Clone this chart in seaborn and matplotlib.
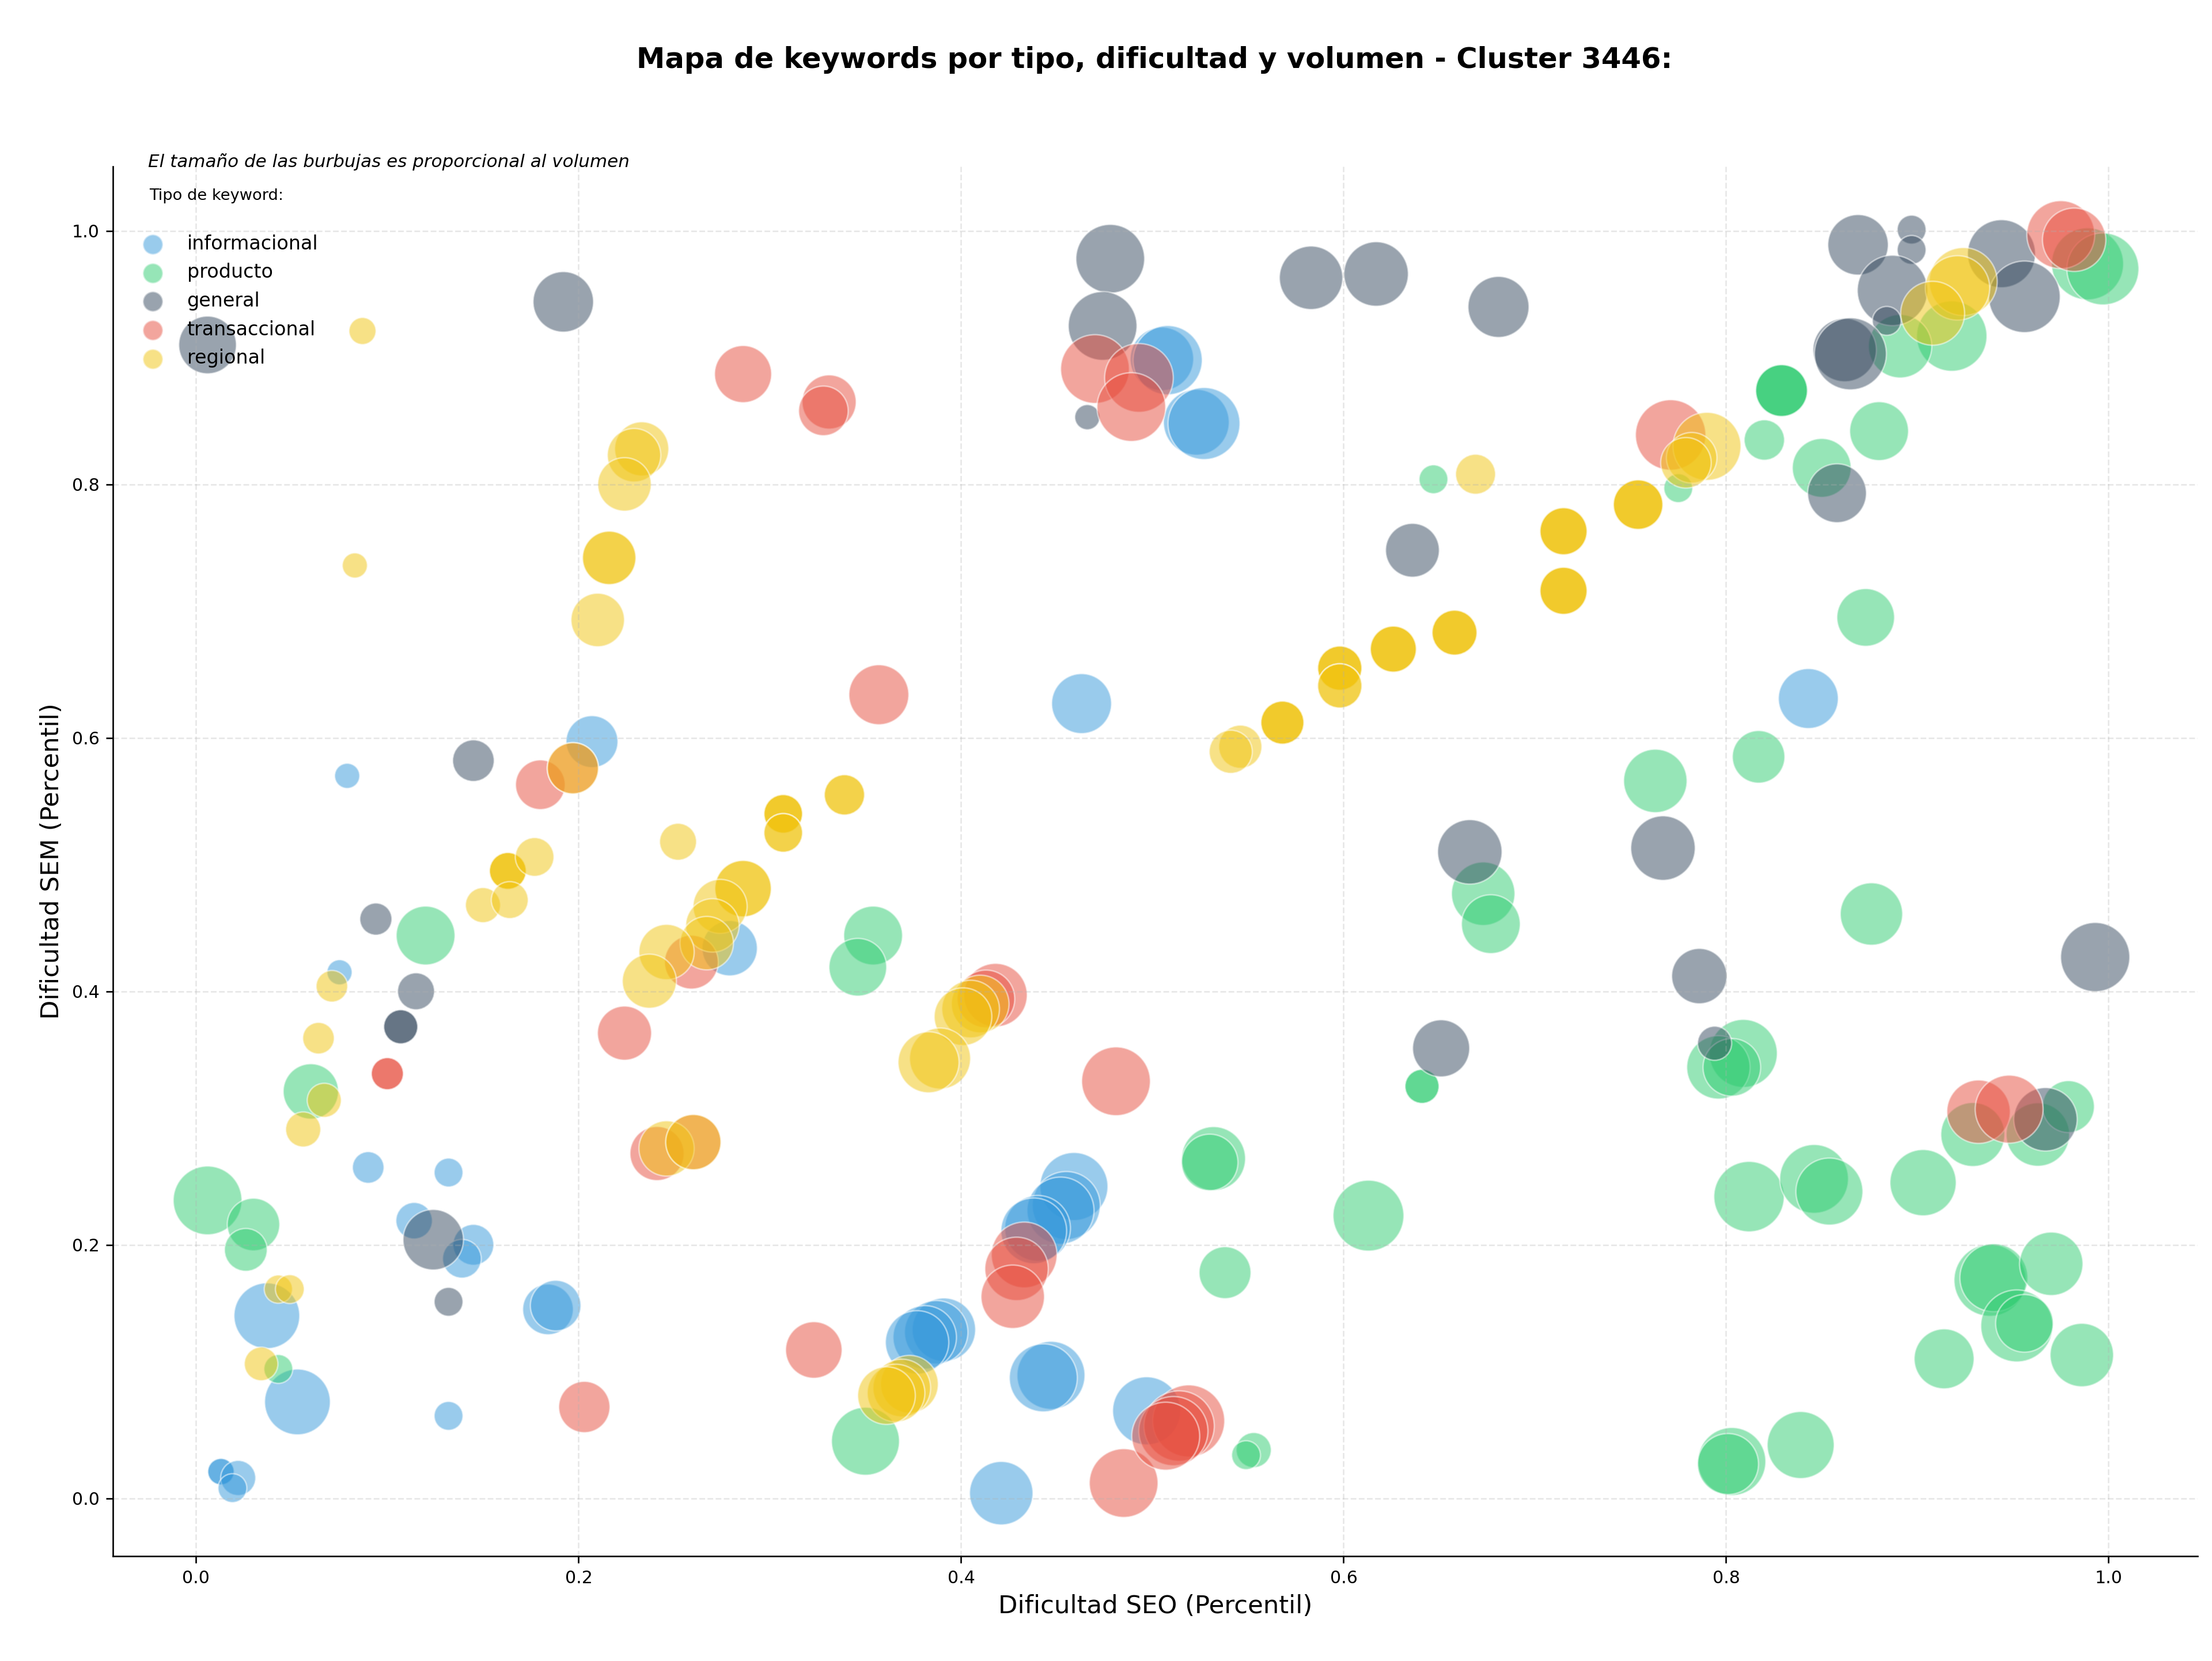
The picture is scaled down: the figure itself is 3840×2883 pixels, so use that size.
import numpy as np
import pandas as pd
import matplotlib
matplotlib.use("Agg")
import matplotlib.pyplot as plt
import seaborn as sns

tipos = ["informacional", "producto", "general", "transaccional", "regional"]
colores = ["#3498db", "#2ecc71", "#34495e", "#e74c3c", "#f1c40f"]

# informacional
info_seo = [0.505, 0.508, 0.523, 0.527, 0.463, 0.843, 0.207, 0.079, 0.075, 0.279, 0.090, 0.132,
            0.114, 0.145, 0.139, 0.037, 0.184, 0.188, 0.053, 0.132, 0.013, 0.022, 0.019, 0.459,
            0.455, 0.452, 0.440, 0.438, 0.391, 0.387, 0.381, 0.377, 0.447, 0.443, 0.421, 0.497]
info_sem = [0.899, 0.898, 0.849, 0.848, 0.627, 0.631, 0.597, 0.570, 0.415, 0.434, 0.261, 0.257,
            0.219, 0.200, 0.189, 0.144, 0.149, 0.152, 0.076, 0.065, 0.021, 0.016, 0.008, 0.246,
            0.231, 0.227, 0.213, 0.211, 0.133, 0.131, 0.127, 0.123, 0.097, 0.095, 0.004, 0.069]
info_vol = [1210, 1440, 1300, 1560, 1080, 1080, 810, 190, 190, 920, 300, 250,
            400, 500, 450, 1300, 770, 770, 1300, 250, 210, 370, 250, 1390,
            1390, 1350, 1300, 1300, 1210, 1210, 1210, 1210, 1390, 1390, 1210, 1390]
info_rep = [1, 1, 1, 1, 1, 1, 1, 1, 1, 1, 1, 1,
            1, 1, 1, 1, 1, 1, 1, 1, 2, 1, 1, 1,
            1, 1, 1, 1, 1, 1, 1, 1, 1, 1, 1, 1]

# producto
prod_seo = [0.989, 0.997, 0.918, 0.891, 0.829, 0.775, 0.820, 0.850, 0.880, 0.873, 0.647, 0.817,
            0.763, 0.876, 0.673, 0.677, 0.354, 0.346, 0.641, 0.809, 0.796, 0.803, 0.120, 0.060,
            0.006, 0.030, 0.026, 0.043, 0.532, 0.530, 0.613, 0.538, 0.350, 0.553, 0.549, 0.929,
            0.963, 0.979, 0.812, 0.846, 0.854, 0.903, 0.938, 0.940, 0.970, 0.952, 0.956, 0.914,
            0.986, 0.803, 0.801, 0.839]
prod_sem = [0.974, 0.970, 0.917, 0.909, 0.874, 0.797, 0.835, 0.813, 0.842, 0.695, 0.804, 0.585,
            0.566, 0.461, 0.477, 0.453, 0.444, 0.419, 0.325, 0.351, 0.340, 0.340, 0.444, 0.321,
            0.235, 0.216, 0.196, 0.102, 0.268, 0.265, 0.223, 0.178, 0.045, 0.038, 0.034, 0.287,
            0.287, 0.309, 0.238, 0.252, 0.242, 0.249, 0.172, 0.174, 0.185, 0.136, 0.138, 0.110,
            0.113, 0.029, 0.027, 0.042]
prod_vol = [1560, 1560, 1490, 1210, 810, 250, 490, 1040, 1040, 1000, 250, 830,
            1210, 1170, 1210, 1040, 1040, 1000, 350, 1390, 1210, 1000, 1040, 920,
            1420, 830, 550, 250, 1230, 960, 1510, 810, 1390, 370, 250, 1230,
            1210, 810, 1490, 1420, 1350, 1320, 1560, 1390, 1210, 1560, 1000, 1080,
            1210, 1390, 1120, 1350]
prod_rep = [1, 1, 1, 1, 3, 1, 1, 1, 1, 1, 1, 1,
            1, 1, 1, 1, 1, 1, 2, 1, 1, 1, 1, 1,
            1, 1, 1, 1, 1, 1, 1, 1, 1, 1, 1, 1,
            1, 1, 1, 1, 1, 1, 1, 1, 1, 1, 1, 1,
            1, 1, 1, 1]

# general
gen_seo = [0.006, 0.192, 0.478, 0.474, 0.466, 0.583, 0.617, 0.681, 0.636, 0.869, 0.897, 0.897,
           0.944, 0.956, 0.887, 0.884, 0.862, 0.865, 0.858, 0.666, 0.767, 0.993, 0.786, 0.794,
           0.651, 0.145, 0.094, 0.115, 0.107, 0.124, 0.132, 0.967]
gen_sem = [0.910, 0.944, 0.978, 0.925, 0.853, 0.963, 0.966, 0.940, 0.748, 0.989, 1.001, 0.985,
           0.982, 0.948, 0.953, 0.929, 0.906, 0.903, 0.793, 0.510, 0.513, 0.427, 0.412, 0.359,
           0.355, 0.582, 0.457, 0.400, 0.372, 0.204, 0.155, 0.299]
gen_vol = [1000, 1100, 1420, 1420, 190, 1210, 1250, 1120, 870, 1100, 250, 250,
           1390, 1540, 1490, 250, 1210, 1560, 1040, 1250, 1250, 1440, 920, 350,
           980, 520, 310, 410, 350, 1100, 250, 1210]
gen_rep = [1, 1, 1, 1, 1, 1, 1, 1, 1, 1, 1, 1,
           1, 1, 1, 1, 1, 1, 1, 1, 1, 1, 1, 1,
           1, 1, 1, 1, 2, 1, 1, 1]

# transaccional
trans_seo = [0.286, 0.331, 0.328, 0.470, 0.493, 0.489, 0.975, 0.982, 0.771, 0.357, 0.180, 0.197,
             0.418, 0.413, 0.481, 0.259, 0.224, 0.100, 0.241, 0.260, 0.203, 0.323, 0.433, 0.429,
             0.427, 0.485, 0.519, 0.514, 0.511, 0.507, 0.932, 0.948]
trans_sem = [0.887, 0.865, 0.858, 0.891, 0.884, 0.861, 0.997, 0.993, 0.839, 0.634, 0.563, 0.576,
             0.397, 0.394, 0.329, 0.423, 0.367, 0.335, 0.272, 0.281, 0.072, 0.117, 0.192, 0.181,
             0.159, 0.012, 0.061, 0.057, 0.053, 0.049, 0.305, 0.307]
trans_vol = [980, 880, 740, 1420, 1420, 1420, 1390, 1210, 1490, 1080, 740, 790,
             1210, 1000, 1420, 870, 880, 310, 880, 920, 790, 960, 1300, 1210,
             1210, 1420, 1560, 1490, 1440, 1390, 1210, 1390]
trans_rep = [1, 1, 1, 1, 1, 1, 1, 1, 1, 1, 1, 1,
             1, 1, 1, 1, 1, 2, 1, 1, 1, 1, 1, 1,
             1, 1, 1, 1, 1, 1, 1, 1]

# regional
reg_seo = [0.087, 0.233, 0.229, 0.224, 0.216, 0.083, 0.210, 0.924, 0.921, 0.908, 0.790, 0.782,
           0.779, 0.754, 0.715, 0.715, 0.598, 0.598, 0.626, 0.658, 0.568, 0.546, 0.541, 0.339,
           0.307, 0.307, 0.252, 0.163, 0.177, 0.150, 0.164, 0.197, 0.071, 0.064, 0.067, 0.056,
           0.043, 0.049, 0.034, 0.286, 0.274, 0.270, 0.267, 0.246, 0.237, 0.246, 0.260, 0.410,
           0.405, 0.401, 0.389, 0.383, 0.373, 0.369, 0.366, 0.361, 0.669]
reg_sem = [0.921, 0.828, 0.823, 0.800, 0.742, 0.736, 0.693, 0.960, 0.955, 0.935, 0.830, 0.821,
           0.817, 0.784, 0.763, 0.716, 0.655, 0.641, 0.670, 0.683, 0.612, 0.593, 0.589, 0.555,
           0.540, 0.525, 0.518, 0.495, 0.506, 0.468, 0.472, 0.576, 0.404, 0.363, 0.314, 0.291,
           0.165, 0.165, 0.106, 0.481, 0.467, 0.452, 0.438, 0.431, 0.408, 0.276, 0.281, 0.390,
           0.386, 0.380, 0.347, 0.344, 0.090, 0.087, 0.083, 0.081, 0.808]
reg_vol = [220, 880, 860, 860, 860, 190, 860, 1390, 1250, 1230, 1390, 770,
           770, 740, 670, 670, 590, 590, 640, 610, 560, 560, 560, 490,
           450, 450, 410, 410, 450, 370, 410, 790, 300, 300, 350, 370,
           240, 250, 340, 960, 880, 860, 860, 920, 880, 920, 920, 1000,
           1000, 1000, 1120, 1120, 1000, 1000, 1000, 1000, 480]
reg_rep = [1, 1, 1, 1, 2, 1, 1, 1, 1, 1, 1, 1,
           1, 3, 3, 3, 3, 2, 3, 3, 3, 1, 1, 2,
           3, 2, 1, 3, 1, 1, 1, 1, 1, 1, 1, 1,
           1, 1, 1, 2, 1, 1, 1, 1, 1, 1, 1, 1,
           1, 1, 1, 1, 1, 1, 1, 1, 1]

grupos = [
    ("informacional", info_seo, info_sem, info_vol, info_rep),
    ("producto", prod_seo, prod_sem, prod_vol, prod_rep),
    ("general", gen_seo, gen_sem, gen_vol, gen_rep),
    ("transaccional", trans_seo, trans_sem, trans_vol, trans_rep),
    ("regional", reg_seo, reg_sem, reg_vol, reg_rep),
]

partes = []
for tipo, seo, sem, vol, rep in grupos:
    d = pd.DataFrame({"seo": seo, "sem": sem, "volumen": vol, "tipo": tipo})
    d = d.loc[d.index.repeat(rep)]
    partes.append(d)
df = pd.concat(partes, ignore_index=True)

plt.rcParams["font.family"] = ["DejaVu Sans"]

fig, ax = plt.subplots(figsize=(16, 12.0125), dpi=240)
fig.subplots_adjust(left=0.051, right=0.9935, bottom=0.063, top=0.8998)

vmin, vmax = df["volumen"].min(), df["volumen"].max()
sns.scatterplot(
    data=df, x="seo", y="sem",
    hue="tipo", hue_order=tipos, palette=dict(zip(tipos, colores)),
    size="volumen", sizes=(0.9 * vmin, 0.9 * vmax), size_norm=(vmin, vmax),
    alpha=0.5, edgecolor="white", linewidth=0.8,
    legend=False, ax=ax,
)

for t, c in zip(tipos, colores):
    ax.scatter([], [], s=110, color=c, alpha=0.5, edgecolor="white", label=t)
leg = ax.legend(loc="upper left", bbox_to_anchor=(0.0061, 0.9567), borderaxespad=0,
                frameon=False, fontsize=10)
ax.text(0.0176, 0.9787, "Tipo de keyword:", transform=ax.transAxes,
        fontsize=8.2, va="center")

ax.text(0.017, 0.997, "El tamaño de las burbujas es proporcional al volumen",
        transform=ax.transAxes, fontsize=9.3, style="italic", va="bottom")

ax.set_xlabel("Dificultad SEO (Percentil)", fontsize=13)
ax.set_ylabel("Dificultad SEM (Percentil)", fontsize=13)
ax.tick_params(labelsize=9)
ax.grid(True, linestyle="--", alpha=0.3)
sns.despine(ax=ax)

fig.suptitle("Mapa de keywords por tipo, dificultad y volumen - Cluster 3446:",
             fontsize=14.9, fontweight="bold", x=0.522, y=0.964, va="center")

fig.savefig("out.png", dpi=240)
